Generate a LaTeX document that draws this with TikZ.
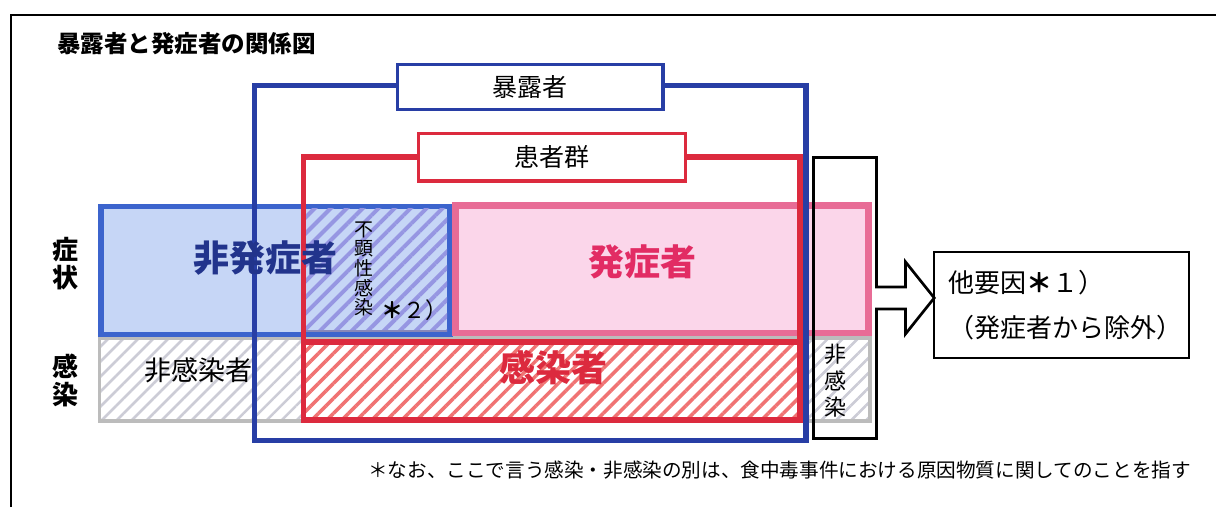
\documentclass[tikz,border=0pt]{standalone}
\usepackage{fontspec}
\setmainfont{Noto Sans CJK JP}
\usetikzlibrary{patterns.meta}

\definecolor{expblue}{RGB}{40,62,165}
\definecolor{boxblue}{RGB}{60,100,205}
\definecolor{paleblue}{RGB}{198,214,246}
\definecolor{hatchblue}{RGB}{150,150,226}
\definecolor{seamblue}{RGB}{135,135,185}
\definecolor{casered}{RGB}{220,42,62}
\definecolor{pinkline}{RGB}{232,108,150}
\definecolor{palepink}{RGB}{251,214,234}
\definecolor{pinktext}{RGB}{226,44,100}
\definecolor{hatchred}{RGB}{240,115,115}
\definecolor{hatchgray}{RGB}{204,204,214}
\definecolor{edgegray}{RGB}{188,188,188}
\definecolor{textblue}{RGB}{34,52,140}

\newcommand\fsz[1]{\fontsize{#1}{#1}\selectfont}

\begin{document}
\begin{tikzpicture}[x=1pt,y=1pt,
  box/.style={rectangle,inner sep=0pt,outer sep=0pt},
  tag/.style={box,fill=white,line width=3.5pt,font=\fsz{25}},
  hatch/.style 2 args={pattern={Lines[angle=45,distance={#1},line width={#2}]}},
  bigword/.style={font=\bfseries\fsz{36}}]

\useasboundingbox (0,0) rectangle (1216,-507);

% frame and title
\draw[line width=2pt] (11,-507) |- (1216,-15);
\node[anchor=west,inner sep=0pt,font=\bfseries\fsz{23.5}] (title) at (57,-44) {暴露者と発症者の関係図};

% rows
\node[box,draw=edgegray,line width=3.5pt,hatch={10.6pt}{2.6pt},pattern color=hatchgray,
  minimum width=770.5pt,minimum height=83pt] (noninf) at (484.75,-379.5) {};
\node[box,draw=boxblue,fill=paleblue,line width=5.5pt,
  minimum width=349pt,minimum height=128pt] (nonsym) at (275.5,-270.5) {};
\node[box,draw=pinkline,fill=palepink,line width=6.5pt,
  minimum width=413pt,minimum height=127.5pt] (sym) at (662,-269.25) {};
\node[box,hatch={11.3pt}{4pt},pattern color=hatchblue,
  minimum width=141pt,minimum height=123pt] (inapp) at (376.5,-269.5) {};
\draw[seamblue,line width=2.5pt] (inapp.south west) -- (inapp.south east);
\node[box,draw=casered,line width=5.5pt,preaction={fill=white},hatch={10.6pt}{3.5pt},pattern color=hatchred,
  minimum width=496.5pt,minimum height=78pt] (infected) at (551.75,-381) {};

% groups
\node[box,draw=expblue,line width=5.5pt,minimum width=551.5pt,minimum height=355pt] (exposed) at (530.25,-263) {};
\node[box,draw=casered,line width=5.5pt,minimum width=496.5pt,minimum height=263pt] (patients) at (551.75,-288.5) {};
\node[box,draw=black,line width=2.7pt,minimum width=63pt,minimum height=281pt] (excluded) at (845,-297.9) {};

\node[tag,draw=expblue,minimum width=265.8pt,minimum height=45pt] (exposedtag) at ([yshift=-1.3pt]exposed.north) {暴露者};
\node[tag,draw=casered,minimum width=267pt,minimum height=47.5pt] (patientstag) at (patients.north) {患者群};

% other causes
\node[box,draw=black,line width=2pt,minimum width=254.7pt,minimum height=105.8pt,
  text width=226pt,align=left,font=\fontsize{26}{45}\selectfont] (others) at (1061.6,-304.9)
  {他要因{\bfseries ＊}１）\\（発症者から除外）};
\draw[line width=2.7pt,fill=white] ([xshift=-1.5pt,yshift=11pt]excluded.east) -- ++(30.5,0) -- ++(0,25)
  -- (others.west |- excluded.east) -- ++(-28.75,-36) -- ++(0,25) -- ([xshift=-1.5pt,yshift=-11pt]excluded.east);

% words
\node[bigword,text=textblue] (nonsymtext) at (265.5,-258) {非発症者};
\node[bigword,text=pinktext] (symtext) at (642,-262) {発症者};
\node[bigword,text=casered] (inftext) at (553,-368) {感染者};
\node[font=\fsz{27}] (noninftext) at (198,-370) {非感染者};
\node[align=center,font=\fontsize{19}{19.6}\selectfont] (inapptext) at (364,-269) {不\\顕\\性\\感\\染};
\node[anchor=west,inner sep=0pt,font=\fsz{22}] (inappnote) at (381,-310) {{\bfseries ＊}２）};
\node[align=center,font=\fontsize{22}{26.5}\selectfont] (noninfsmall) at (835,-381) {非\\感\\染};
\node[align=center,font=\bfseries\fontsize{26}{28}\selectfont] (rowsym) at (65,-263.5) {症\\状};
\node[align=center,font=\bfseries\fontsize{26}{28}\selectfont] (rowinf) at (65,-380.5) {感\\染};
\node[anchor=west,inner sep=0pt,font=\fsz{19.6}] (note) at (368,-470)
  {＊なお、ここで言う感染・非感染の別は、食中毒事件における原因物質に関してのことを指す};

\end{tikzpicture}
\end{document}
